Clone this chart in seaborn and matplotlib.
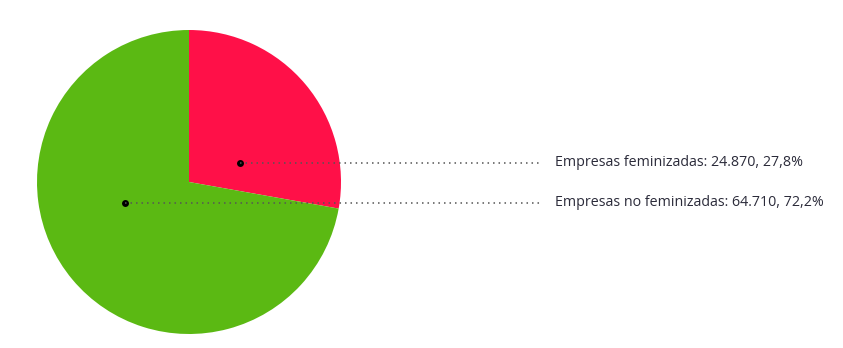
import matplotlib
matplotlib.use("Agg")
import matplotlib.pyplot as plt
import seaborn as sns
import numpy as np

categories = ["Empresas feminizadas", "Empresas no feminizadas"]
counts = ["24.870", "64.710"]
shares = [27.8, 72.2]
pct_labels = ["27,8%", "72,2%"]

colors = ["#FF1048", "#5BB913"]

sns.set_theme(style="white")
plt.rcParams['font.family'] = ['Open Sans', 'DejaVu Sans']

W, H = 843, 348
fig = plt.figure(figsize=(W / 100, H / 100), dpi=100)
cx, cy, r = 189, 182, 152
ax = fig.add_axes([(cx - r) / W, (H - cy - r) / H, 2 * r / W, 2 * r / H])
ax.pie(shares, colors=colors, startangle=90, counterclock=False,
       wedgeprops=dict(linewidth=0), radius=1)
ax.set_xlim(-1, 1)
ax.set_ylim(-1, 1)
ax.set_aspect("equal")
ax.axis("off")

# label anchor points inside each slice (radius fraction, angle deg) and label rows (pixel y)
anchors = [(0.36, 20.4), (0.44, 198.0)]
rows_y = [163, 203]
line_end_x = 540
text_x = 555

for (rf, ang), py, cat, cnt, pl in zip(anchors, rows_y, categories, counts, pct_labels):
    a = np.deg2rad(ang)
    dx, dy = rf * np.cos(a), rf * np.sin(a)
    ax.plot([dx], [dy], 'o', color="black", markersize=5, markeredgewidth=0,
            zorder=5, clip_on=False)
    fy = (H - py) / H
    x0 = ax.transData.transform((dx, dy))[0] / W
    fig.add_artist(plt.Line2D([x0, line_end_x / W], [fy, fy], color="#555555",
                              linewidth=1.1, linestyle=(0, (1, 2.6)), zorder=4))
    fig.text(text_x / W, fy, f"{cat}: {cnt}, {pl}", fontsize=10.3,
             color="#2b2b3a", va="center", ha="left")

fig.savefig("out.png", dpi=100, facecolor="white")
